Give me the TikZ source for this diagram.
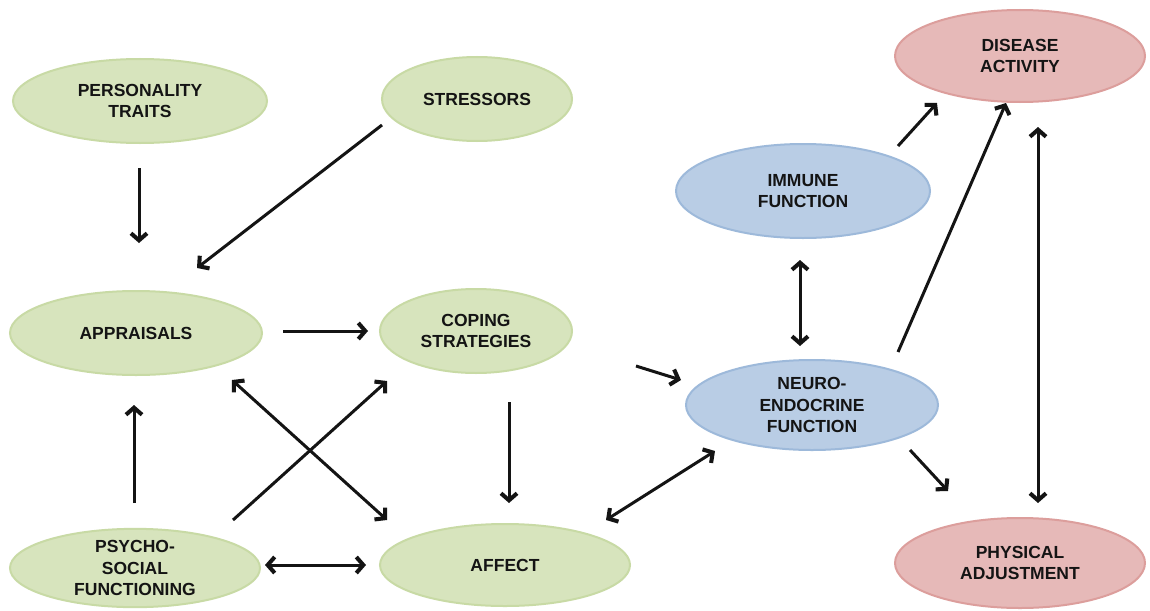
\documentclass[tikz,border=0pt]{standalone}
\usepackage{fontspec}
\setmainfont{Liberation Sans}
\usetikzlibrary{shapes.geometric,arrows.meta,calc}
\definecolor{gfill}{HTML}{D7E4BD}
\definecolor{gline}{HTML}{C8DAA5}
\definecolor{bfill}{HTML}{B9CDE5}
\definecolor{bline}{HTML}{9DB9DA}
\definecolor{rfill}{HTML}{E6B9B8}
\definecolor{rline}{HTML}{DC9E9C}
\definecolor{txt}{HTML}{141414}
\tikzset{
  ell/.style={ellipse, inner sep=0pt, line width=2pt, align=center, text=txt,
    font=\fontsize{17.5}{21.5}\selectfont\bfseries},
  green/.style={ell, fill=gfill, draw=gline},
  blue/.style={ell, fill=bfill, draw=bline},
  red/.style={ell, fill=rfill, draw=rline},
  tip/.tip={Straight Barb[length=7pt,width=16pt,line width=0pt 1.35]},
  arr/.style={line width=3pt, draw=txt, -tip},
  darr/.style={line width=3pt, draw=txt, tip-tip}
}
\begin{document}
\begin{tikzpicture}[x=1pt,y=-1pt]
\useasboundingbox[fill=white] (0,0) rectangle (1150,610);
\node[green, minimum width=254pt, minimum height=84pt] (pers) at (140,101) {PERSONALITY\\TRAITS};
\node[green, minimum width=190pt, minimum height=84pt] (str) at (477,99) {STRESSORS};
\node[green, minimum width=252pt, minimum height=84pt] (appr) at (136,333) {APPRAISALS};
\node[green, minimum width=192pt, minimum height=84pt] (cop) at (476,331) {COPING\\STRATEGIES};
\node[green, minimum width=250pt, minimum height=76pt] (psy) at (135,568) {PSYCHO-\\SOCIAL\\FUNCTIONING};
\node[green, minimum width=250pt, minimum height=82pt] (aff) at (505,565) {AFFECT};
\node[blue, minimum width=254pt, minimum height=94pt] (imm) at (803,191) {IMMUNE\\FUNCTION};
\node[blue, minimum width=252pt, minimum height=90pt] (neu) at (812,405) {NEURO-\\ENDOCRINE\\FUNCTION};
\node[red, minimum width=250pt, minimum height=92pt] (dis) at (1020,56) {DISEASE\\ACTIVITY};
\node[red, minimum width=250pt, minimum height=90pt] (phy) at (1020,563) {PHYSICAL\\ADJUSTMENT};

\draw[arr] ($(pers)+(-1,67)$) -- ($(appr)+(3,-90)$);
\draw[arr] ($(str)+(-95,26)$) -- ($(appr)+(61,-65)$);
\draw[arr] ($(appr)+(147,-2)$) -- ($(cop)+(-108,0)$);
\draw[arr] ($(cop)+(160,35)$) -- ($(neu)+(-131,-25)$);
\draw[arr] ($(cop)+(33,71)$) -- ($(aff)+(4,-62)$);
\draw[arr] ($(psy)+(-1,-65)$) -- ($(appr)+(-2,72)$);
\draw[arr] ($(psy)+(98,-48)$) -- ($(cop)+(-89,50)$);
\draw[darr] ($(appr)+(96,47)$) -- ($(aff)+(-118,-45)$);
\draw[darr] ($(psy)+(130,-3)$) -- ($(aff)+(-139,0)$);
\draw[darr] ($(aff)+(101,-45)$) -- ($(neu)+(-97,46)$);
\draw[darr] ($(imm)+(-3,69)$) -- ($(neu)+(-12,-59)$);
\draw[arr] ($(imm)+(95,-45)$) -- ($(dis)+(-83,47)$);
\draw[arr] ($(neu)+(86,-53)$) -- ($(dis)+(-14,47)$);
\draw[arr] ($(neu)+(98,45)$) -- ($(phy)+(-72,-72)$);
\draw[darr] ($(dis)+(18,71)$) -- ($(phy)+(18,-60)$);
\end{tikzpicture}
\end{document}
